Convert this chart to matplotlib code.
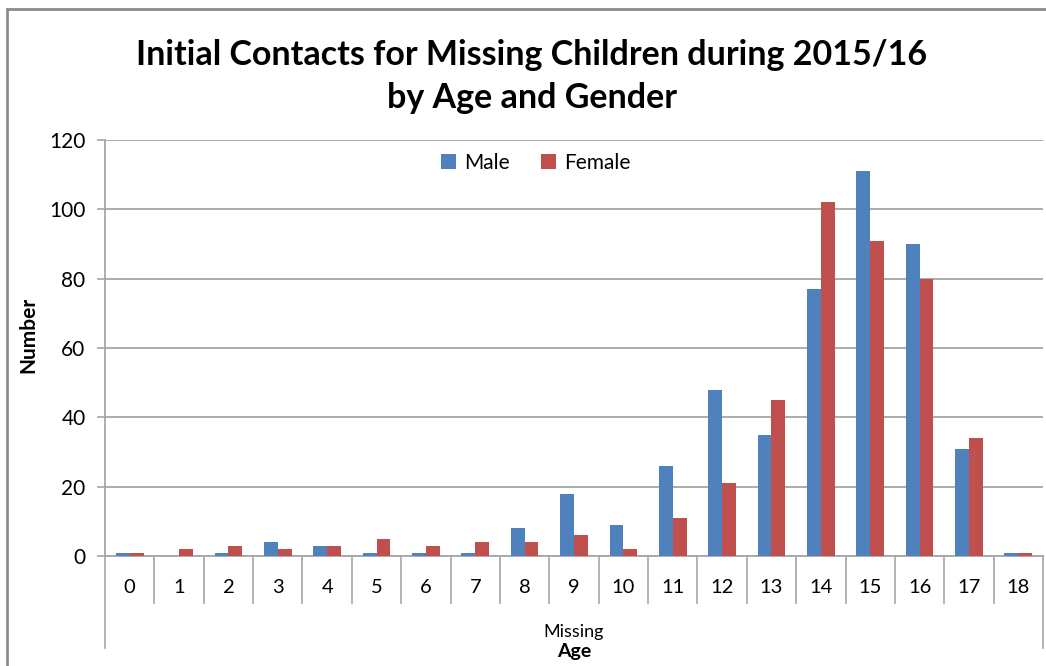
import numpy as np
import matplotlib.pyplot as plt
from matplotlib.patches import Rectangle
from matplotlib.transforms import blended_transform_factory

plt.rcParams['font.family'] = ['Lato', 'DejaVu Sans']

# data
ages = [str(a) for a in range(19)]
male = [1, 0, 1, 4, 3, 1, 1, 1, 8, 18, 9, 26, 48, 35, 77, 111, 90, 31, 1]
female = [1, 2, 3, 2, 3, 5, 3, 4, 4, 6, 2, 11, 21, 45, 102, 91, 80, 34, 1]

fig = plt.figure(figsize=(10.46, 6.66), dpi=100)
ax = fig.add_axes([105/1046, 110/666, 938/1046, 416/666])

index = np.arange(len(ages))
bar_width = 0.28
ax.bar(index - bar_width/2, male, bar_width, color='#4F81BD', label='Male', zorder=3)
ax.bar(index + bar_width/2, female, bar_width, color='#C0504D', label='Female', zorder=3)

ax.set_xlim(-0.5, len(ages) - 0.5)
ax.set_ylim(0, 120)
ax.set_yticks(range(0, 121, 20))
ax.yaxis.grid(True, color='#A6A6A6', linewidth=1.3, zorder=0)
ax.tick_params(axis='y', labelsize=15, colors='#A6A6A6', labelcolor='black',
               length=6, width=1.2, pad=8)
ax.set_xticks([])
for s in ['top', 'right']:
    ax.spines[s].set_visible(False)
for s in ['left', 'bottom']:
    ax.spines[s].set_color('#A6A6A6')
    ax.spines[s].set_linewidth(1.3)

# category labels and separators
trans = blended_transform_factory(ax.transData, ax.transAxes)
for i, lab in enumerate(ages):
    ax.text(i, -0.075, lab, transform=trans, ha='center', va='center', fontsize=14.5)
for i in range(len(ages) + 1):
    low = -0.221 if i in (0, len(ages)) else -0.113
    ax.plot([i - 0.5, i - 0.5], [0, low], transform=trans, color='#A6A6A6',
            linewidth=1.2, clip_on=False)

fig.text(574/1046, 1 - 632/666, 'Missing', ha='center', va='center', fontsize=13)
fig.text(574/1046, 1 - 652/666, 'Age', ha='center', va='center', fontsize=14, fontweight='bold')
fig.text(28/1046, 1 - 335/666, 'Number', ha='center', va='center', rotation=90,
         fontsize=15, fontweight='bold')

fig.text(532/1046, 1 - 55/666, 'Initial Contacts for Missing Children during 2015/16',
         ha='center', va='center', fontsize=24.5, fontweight='bold')
fig.text(532/1046, 1 - 98/666, 'by Age and Gender',
         ha='center', va='center', fontsize=24.5, fontweight='bold')

fig.legend(loc='center', bbox_to_anchor=(536/1046, 1 - 163/666), ncol=2, frameon=False,
           fontsize=15, handlelength=0.7, handleheight=0.7, handletextpad=0.4,
           columnspacing=1.5)

fig.patches.append(Rectangle((7/1046, -0.1), 1.2, 1 - 9/666 + 0.1, transform=fig.transFigure,
                             fill=False, edgecolor='#8C8C8C', linewidth=2))

fig.savefig('out.png', dpi=100)
